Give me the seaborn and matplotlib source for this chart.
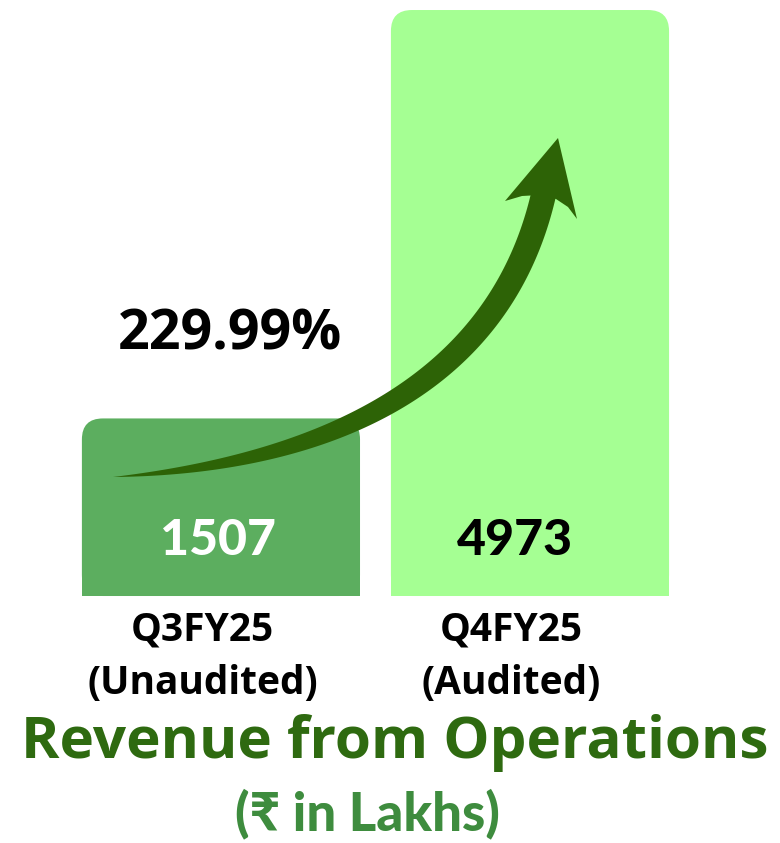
import numpy as np
import matplotlib
matplotlib.use("Agg")
import matplotlib.pyplot as plt
from matplotlib.patches import FancyBboxPatch, Rectangle, Polygon
import seaborn as sns
import pandas as pd

# ---- data ----
categories = ["Q3FY25", "Q4FY25"]
sublabels = ["(Unaudited)", "(Audited)"]
values = [1507, 4973]
growth_label = "229.99%"
bar_colors = ["#5cae5f", "#a5ff93"]
value_colors = ["white", "black"]
title = "Revenue from Operations"
subtitle = "(₹ in Lakhs)"

sns.set_theme(style="white")
plt.rcParams['font.family'] = ['Open Sans', 'DejaVu Sans']

W, H = 780, 843
fig = plt.figure(figsize=(W / 100, H / 100), dpi=100)
fig.patch.set_facecolor("white")
ax = fig.add_axes([0, 0, 1, 1])

df = pd.DataFrame({"cat": categories, "val": values})
sns.barplot(data=df, x="cat", y="val", hue="cat", palette=bar_colors,
            width=0.9, legend=False, ax=ax, saturation=1)

ax.set_xlim(-0.715, 1.809)
ax.set_ylim(-2096, 5058)
ax.axis("off")

# rounded top corners
rx = 21 / 309.0
ry = 21 / (586 / 4973.0)
for p, c in zip(list(ax.patches), bar_colors):
    x0, y0, w, h = p.get_x(), p.get_y(), p.get_width(), p.get_height()
    p.set_visible(False)
    ax.add_patch(FancyBboxPatch((x0, y0), w, h,
                                boxstyle=f"round,pad=0,rounding_size={rx}",
                                mutation_aspect=ry / rx, fc=c, ec="none", zorder=2))
    ax.add_patch(Rectangle((x0, y0), w, h * 0.5, fc=c, ec="none", zorder=2))

# value labels inside bars
val_dx = [-0.01, -0.05]
for i, (v, col) in enumerate(zip(values, value_colors)):
    ax.text(i + val_dx[i], 470, f"{v}", ha="center", va="center",
            fontsize=36, fontweight="black", color=col,
            family=['Lato', 'DejaVu Sans'], zorder=5)

# category labels
for i, (c, s) in enumerate(zip(categories, sublabels)):
    ax.text(i - 0.06, -290, c, ha="center", va="center", fontsize=28,
            fontweight="bold", color="black")
    ax.text(i - 0.06, -740, s, ha="center", va="center", fontsize=28,
            fontweight="bold", color="black")

# growth arrow (decoration, pixel-space geometry -> axes fraction)
def to_ax(pts):
    pts = np.asarray(pts, dtype=float)
    return np.column_stack([pts[:, 0] / W, 1 - pts[:, 1] / H])

P0, P1, P2, P3 = map(np.array, [(113, 477), (300, 465), (500, 400), (545, 188)])
t = np.linspace(0, 1, 160)[:, None]
B = (1 - t) ** 3 * P0 + 3 * (1 - t) ** 2 * t * P1 + 3 * (1 - t) * t ** 2 * P2 + t ** 3 * P3
D = 3 * (1 - t) ** 2 * (P1 - P0) + 6 * (1 - t) * t * (P2 - P1) + 3 * t ** 2 * (P3 - P2)
D = D / np.linalg.norm(D, axis=1, keepdims=True)
N = np.column_stack([-D[:, 1], D[:, 0]])
wid = 25 * (1 - (1 - t[:, 0]) ** 2.5)
left = B + N * wid[:, None] / 2
right = B - N * wid[:, None] / 2
shaft = np.vstack([left, right[::-1]])
arrow_col = "#2d6306"
ax.add_patch(Polygon(to_ax(shaft), closed=True, fc=arrow_col, ec="none",
                     transform=ax.transAxes, zorder=4))
head = [(505, 201), (558, 138), (577, 219), (568, 207), (556, 199), (540, 195), (522, 196)]
ax.add_patch(Polygon(to_ax(head), closed=True, fc=arrow_col, ec="none",
                     transform=ax.transAxes, zorder=4))

ax.text(230 / W, 1 - 335 / H, growth_label, transform=ax.transAxes,
        ha="center", va="center", fontsize=40, fontweight="bold", color="black")

fig.text(395 / W, 1 - 743 / H, title, ha="center", va="center", fontsize=42,
         fontweight="bold", color="#2e6a10")
fig.text(367 / W, 1 - 814 / H, subtitle, ha="center", va="center", fontsize=38,
         fontweight="black", color="#3e8c3e", family=['Lato', 'Noto Sans', 'DejaVu Sans'])

fig.savefig("out.png", dpi=100, facecolor="white")
